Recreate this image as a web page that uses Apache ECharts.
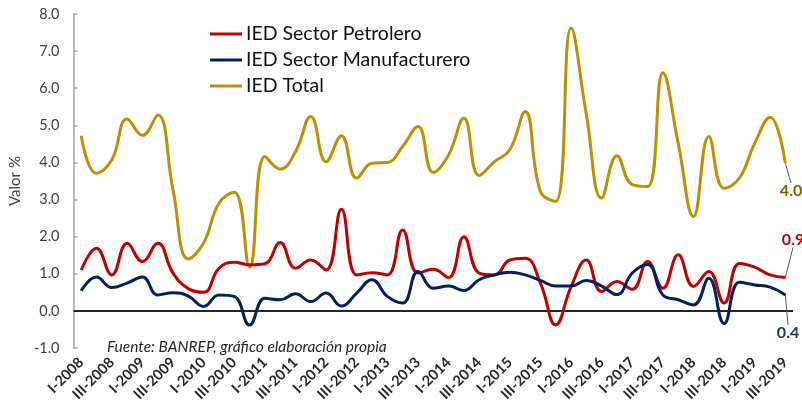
<!DOCTYPE html>
<html>
<head>
<meta charset="utf-8">
<script src="https://cdn.jsdelivr.net/npm/echarts@6/dist/echarts.min.js"></script>
<style>
html,body{margin:0;padding:0;background:#fff;}
#chart{width:802px;height:407px;}
</style>
</head>
<body>
<div id="chart"></div>
<script>
const categories = [
  'I-2008','II-2008','III-2008','IV-2008',
  'I-2009','II-2009','III-2009','IV-2009',
  'I-2010','II-2010','III-2010','IV-2010',
  'I-2011','II-2011','III-2011','IV-2011',
  'I-2012','II-2012','III-2012','IV-2012',
  'I-2013','II-2013','III-2013','IV-2013',
  'I-2014','II-2014','III-2014','IV-2014',
  'I-2015','II-2015','III-2015','IV-2015',
  'I-2016','II-2016','III-2016','IV-2016',
  'I-2017','II-2017','III-2017','IV-2017',
  'I-2018','II-2018','III-2018','IV-2018',
  'I-2019','II-2019','III-2019'
];
const petrolero = [1.10, 1.69, 0.97, 1.82, 1.33, 1.82, 1.02, 0.60, 0.50, 1.15, 1.31, 1.24,
  1.27, 1.84, 1.15, 1.37, 1.10, 2.74, 0.97, 1.03, 0.97, 2.18, 1.02, 1.12,
  0.90, 2.00, 1.02, 0.97, 1.37, 1.42, 0.75, -0.38, 0.65, 1.37, 0.52, 0.79,
  0.58, 1.33, 0.61, 1.51, 0.66, 1.06, 0.21, 1.28, 1.18, 0.97, 0.90];
const manufacturero = [0.54, 0.91, 0.63, 0.75, 0.91, 0.43, 0.49, 0.40, 0.12, 0.43, 0.39, -0.38,
  0.34, 0.30, 0.46, 0.25, 0.48, 0.13, 0.48, 0.84, 0.39, 0.21, 1.06, 0.61,
  0.67, 0.55, 0.84, 0.97, 1.04, 0.97, 0.82, 0.67, 0.67, 0.82, 0.67, 0.44,
  1.02, 1.25, 0.43, 0.30, 0.16, 0.88, -0.34, 0.77, 0.70, 0.64, 0.43];
const total = [4.72, 3.71, 4.07, 5.17, 4.73, 5.28, 3.26, 1.40, 1.83, 2.90, 3.20, 1.18,
  4.16, 3.82, 4.29, 5.24, 4.02, 4.72, 3.58, 3.98, 4.00, 4.43, 4.97, 3.73,
  4.20, 5.19, 3.65, 4.02, 4.34, 5.37, 3.22, 2.95, 7.62, 5.30, 3.04, 4.18,
  3.40, 3.35, 6.42, 4.52, 2.54, 4.70, 3.30, 3.58, 4.52, 5.22, 3.98];
const seriesNames = ['IED Sector Petrolero', 'IED Sector Manufacturero', 'IED Total'];
const yTicks = {min: -1, max: 8, interval: 1};
const sourceText = 'Fuente: BANREP, gráfico elaboración propia';

const FONT = 'Lato, "Open Sans", sans-serif';
const last = categories.length - 1;

// Turn a value array into data items, with a label + guide line on the last point
function withEndLabel(values, color) {
  return values.map(function (v, i) {
    if (i !== last) return v;
    return {
      value: v,
      symbol: 'circle',
      symbolSize: 1,
      label: {
        show: true,
        position: 'right',
        distance: 5,
        color: color,
        fontFamily: FONT,
        fontWeight: 'bold',
        fontSize: 16,
        formatter: function (p) { return Number(p.value).toFixed(1); }
      },
      labelLine: {show: true, lineStyle: {color: '#595959', width: 1}}
    };
  });
}
function layoutFor(dx, dy) {
  return function (p) {
    if (p.dataIndex === last) return {dx: dx, dy: dy};
    return {};
  };
}

const chart = echarts.init(document.getElementById('chart'), null, {renderer: 'canvas'});
chart.setOption({
  animation: false,
  backgroundColor: '#ffffff',
  grid: {left: 70, right: 9, top: 14, bottom: 59, containLabel: false},
  legend: {
    orient: 'vertical',
    left: 210,
    top: 24,
    padding: 0,
    itemWidth: 32,
    itemHeight: 3,
    itemGap: 6,
    icon: 'rect',
    textStyle: {fontFamily: FONT, fontSize: 19.5, color: '#111', padding: [0, 0, 0, -1]},
    data: seriesNames
  },
  xAxis: {
    type: 'category',
    data: categories,
    boundaryGap: true,
    axisLine: {show: false, onZero: false},
    axisTick: {show: false},
    axisLabel: {
      interval: 1,
      rotate: 45,
      margin: 12,
      fontFamily: FONT,
      fontWeight: 'bold',
      fontSize: 14.5,
      color: '#262626'
    }
  },
  yAxis: {
    type: 'value',
    min: yTicks.min,
    max: yTicks.max,
    interval: yTicks.interval,
    name: 'Valor %',
    nameLocation: 'middle',
    nameGap: 48,
    nameTextStyle: {fontFamily: FONT, fontSize: 15, color: '#404040'},
    axisLine: {show: true, lineStyle: {color: '#a6a6a6', width: 1.5}},
    axisTick: {show: true, inside: true, length: 4, lineStyle: {color: '#a6a6a6', width: 1.5}},
    splitLine: {show: false},
    axisLabel: {
      margin: 14,
      fontFamily: FONT,
      fontSize: 14.5,
      color: '#404040',
      formatter: function (v) { return v.toFixed(1); }
    }
  },
  graphic: [{
    type: 'text',
    left: 107,
    top: 339,
    style: {
      text: sourceText,
      fontFamily: FONT,
      fontStyle: 'italic',
      fontSize: 15.5,
      fill: '#262626'
    }
  }],
  series: [
    {
      name: seriesNames[0],
      type: 'line',
      data: withEndLabel(petrolero, '#c00000'),
      smooth: 0.45,
      symbol: 'none',
      z: 3,
      lineStyle: {color: '#c00000', width: 3},
      itemStyle: {color: '#c00000'},
      labelLayout: layoutFor(-9, -38),
      markLine: {
        silent: true,
        symbol: 'none',
        label: {show: false},
        lineStyle: {color: '#262626', width: 2, type: 'solid'},
        data: [{yAxis: 0}],
        z: 1
      }
    },
    {
      name: seriesNames[1],
      type: 'line',
      data: withEndLabel(manufacturero, '#1f3864'),
      smooth: 0.45,
      symbol: 'none',
      z: 4,
      lineStyle: {color: '#002060', width: 3},
      itemStyle: {color: '#002060'},
      labelLayout: layoutFor(-14, 38)
    },
    {
      name: seriesNames[2],
      type: 'line',
      data: withEndLabel(total, '#7f6000'),
      smooth: 0.45,
      symbol: 'none',
      z: 2,
      lineStyle: {color: '#bf9000', width: 3},
      itemStyle: {color: '#bf9000'},
      labelLayout: layoutFor(-11, 28)
    }
  ]
});
</script>
</body>
</html>
